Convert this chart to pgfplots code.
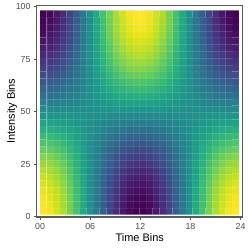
\documentclass[border=0pt]{standalone}
\usepackage{fontspec}
\setmainfont{Liberation Sans}
\usepackage{pgfplots}
\pgfplotsset{compat=1.18}
\definecolor{tickgray}{HTML}{4D4D4D}
\definecolor{framegray}{HTML}{595959}
\begin{document}
\begin{tikzpicture}
\begin{axis}[
  scale only axis, width=206bp, height=211.7bp,
  xmin=-0.4, xmax=24.25, ymin=-0.15, ymax=100.7,
  xtick={0,6,12,18,24}, xticklabels={00,06,12,18,24},
  ytick={0,25,50,75,100},
  tick align=outside, xtick pos=bottom, ytick pos=left,
  major tick length=2.8bp,
  tick style={color=framegray, line width=0.6bp},
  axis line style={color=framegray, line width=1.1bp},
  ticklabel style={font=\fontsize{8.8}{10}\selectfont, text=tickgray},
  /pgf/number format/assume math mode=true,
  xlabel={Time Bins}, ylabel={Intensity Bins},
  label style={font=\fontsize{11}{13}\selectfont},
  xlabel style={at={(axis description cs:0.5,-0.099)}, anchor=center},
  ylabel style={at={(axis description cs:-0.12,0.5)}, anchor=center},
  colormap name=viridis,
  axis on top,
]
\addplot[matrix plot*, mesh/cols=30, point meta=explicit, shader=faceted, faceted color=white, draw opacity=0.07, line width=0.3bp] table[meta=z] {
x y z
0.40 2.62 0.993
1.19 2.62 0.950
1.98 2.62 0.865
2.78 2.62 0.742
3.57 2.62 0.587
4.36 2.62 0.406
5.16 2.62 0.208
5.95 2.62 0
6.74 2.62 -0.208
7.53 2.62 -0.406
8.33 2.62 -0.587
9.12 2.62 -0.742
9.91 2.62 -0.865
10.71 2.62 -0.950
11.50 2.62 -0.993
12.29 2.62 -0.993
13.09 2.62 -0.950
13.88 2.62 -0.865
14.67 2.62 -0.742
15.46 2.62 -0.587
16.26 2.62 -0.406
17.05 2.62 -0.208
17.84 2.62 0
18.64 2.62 0.208
19.43 2.62 0.406
20.22 2.62 0.587
21.02 2.62 0.742
21.81 2.62 0.865
22.60 2.62 0.950
23.39 2.62 0.993
0.40 5.86 0.982
1.19 5.86 0.939
1.98 5.86 0.855
2.78 5.86 0.734
3.57 5.86 0.581
4.36 5.86 0.402
5.16 5.86 0.205
5.95 5.86 0
6.74 5.86 -0.205
7.53 5.86 -0.402
8.33 5.86 -0.581
9.12 5.86 -0.734
9.91 5.86 -0.855
10.71 5.86 -0.939
11.50 5.86 -0.982
12.29 5.86 -0.982
13.09 5.86 -0.939
13.88 5.86 -0.855
14.67 5.86 -0.734
15.46 5.86 -0.581
16.26 5.86 -0.402
17.05 5.86 -0.205
17.84 5.86 0
18.64 5.86 0.205
19.43 5.86 0.402
20.22 5.86 0.581
21.02 5.86 0.734
21.81 5.86 0.855
22.60 5.86 0.939
23.39 5.86 0.982
0.40 9.11 0.961
1.19 9.11 0.919
1.98 9.11 0.836
2.78 9.11 0.718
3.57 9.11 0.568
4.36 9.11 0.393
5.16 9.11 0.201
5.95 9.11 0
6.74 9.11 -0.201
7.53 9.11 -0.393
8.33 9.11 -0.568
9.12 9.11 -0.718
9.91 9.11 -0.836
10.71 9.11 -0.919
11.50 9.11 -0.961
12.29 9.11 -0.961
13.09 9.11 -0.919
13.88 9.11 -0.836
14.67 9.11 -0.718
15.46 9.11 -0.568
16.26 9.11 -0.393
17.05 9.11 -0.201
17.84 9.11 0
18.64 9.11 0.201
19.43 9.11 0.393
20.22 9.11 0.568
21.02 9.11 0.718
21.81 9.11 0.836
22.60 9.11 0.919
23.39 9.11 0.961
0.40 12.35 0.928
1.19 12.35 0.888
1.98 12.35 0.808
2.78 12.35 0.694
3.57 12.35 0.549
4.36 12.35 0.380
5.16 12.35 0.194
5.95 12.35 0
6.74 12.35 -0.194
7.53 12.35 -0.380
8.33 12.35 -0.549
9.12 12.35 -0.694
9.91 12.35 -0.808
10.71 12.35 -0.888
11.50 12.35 -0.928
12.29 12.35 -0.928
13.09 12.35 -0.888
13.88 12.35 -0.808
14.67 12.35 -0.694
15.46 12.35 -0.549
16.26 12.35 -0.380
17.05 12.35 -0.194
17.84 12.35 0
18.64 12.35 0.194
19.43 12.35 0.380
20.22 12.35 0.549
21.02 12.35 0.694
21.81 12.35 0.808
22.60 12.35 0.888
23.39 12.35 0.928
0.40 15.59 0.886
1.19 15.59 0.847
1.98 15.59 0.772
2.78 15.59 0.662
3.57 15.59 0.524
4.36 15.59 0.362
5.16 15.59 0.185
5.95 15.59 0
6.74 15.59 -0.185
7.53 15.59 -0.362
8.33 15.59 -0.524
9.12 15.59 -0.662
9.91 15.59 -0.772
10.71 15.59 -0.847
11.50 15.59 -0.886
12.29 15.59 -0.886
13.09 15.59 -0.847
13.88 15.59 -0.772
14.67 15.59 -0.662
15.46 15.59 -0.524
16.26 15.59 -0.362
17.05 15.59 -0.185
17.84 15.59 0
18.64 15.59 0.185
19.43 15.59 0.362
20.22 15.59 0.524
21.02 15.59 0.662
21.81 15.59 0.772
22.60 15.59 0.847
23.39 15.59 0.886
0.40 18.84 0.834
1.19 18.84 0.798
1.98 18.84 0.726
2.78 18.84 0.623
3.57 18.84 0.493
4.36 18.84 0.341
5.16 18.84 0.174
5.95 18.84 0
6.74 18.84 -0.174
7.53 18.84 -0.341
8.33 18.84 -0.493
9.12 18.84 -0.623
9.91 18.84 -0.726
10.71 18.84 -0.798
11.50 18.84 -0.834
12.29 18.84 -0.834
13.09 18.84 -0.798
13.88 18.84 -0.726
14.67 18.84 -0.623
15.46 18.84 -0.493
16.26 18.84 -0.341
17.05 18.84 -0.174
17.84 18.84 0
18.64 18.84 0.174
19.43 18.84 0.341
20.22 18.84 0.493
21.02 18.84 0.623
21.81 18.84 0.726
22.60 18.84 0.798
23.39 18.84 0.834
0.40 22.08 0.773
1.19 22.08 0.739
1.98 22.08 0.673
2.78 22.08 0.577
3.57 22.08 0.457
4.36 22.08 0.316
5.16 22.08 0.162
5.95 22.08 0
6.74 22.08 -0.162
7.53 22.08 -0.316
8.33 22.08 -0.457
9.12 22.08 -0.577
9.91 22.08 -0.673
10.71 22.08 -0.739
11.50 22.08 -0.773
12.29 22.08 -0.773
13.09 22.08 -0.739
13.88 22.08 -0.673
14.67 22.08 -0.577
15.46 22.08 -0.457
16.26 22.08 -0.316
17.05 22.08 -0.162
17.84 22.08 0
18.64 22.08 0.162
19.43 22.08 0.316
20.22 22.08 0.457
21.02 22.08 0.577
21.81 22.08 0.673
22.60 22.08 0.739
23.39 22.08 0.773
0.40 25.32 0.703
1.19 25.32 0.673
1.98 25.32 0.612
2.78 25.32 0.525
3.57 25.32 0.416
4.36 25.32 0.288
5.16 25.32 0.147
5.95 25.32 0
6.74 25.32 -0.147
7.53 25.32 -0.288
8.33 25.32 -0.416
9.12 25.32 -0.525
9.91 25.32 -0.612
10.71 25.32 -0.673
11.50 25.32 -0.703
12.29 25.32 -0.703
13.09 25.32 -0.673
13.88 25.32 -0.612
14.67 25.32 -0.525
15.46 25.32 -0.416
16.26 25.32 -0.288
17.05 25.32 -0.147
17.84 25.32 0
18.64 25.32 0.147
19.43 25.32 0.288
20.22 25.32 0.416
21.02 25.32 0.525
21.81 25.32 0.612
22.60 25.32 0.673
23.39 25.32 0.703
0.40 28.56 0.626
1.19 28.56 0.599
1.98 28.56 0.545
2.78 28.56 0.468
3.57 28.56 0.370
4.36 28.56 0.256
5.16 28.56 0.131
5.95 28.56 0
6.74 28.56 -0.131
7.53 28.56 -0.256
8.33 28.56 -0.370
9.12 28.56 -0.468
9.91 28.56 -0.545
10.71 28.56 -0.599
11.50 28.56 -0.626
12.29 28.56 -0.626
13.09 28.56 -0.599
13.88 28.56 -0.545
14.67 28.56 -0.468
15.46 28.56 -0.370
16.26 28.56 -0.256
17.05 28.56 -0.131
17.84 28.56 0
18.64 28.56 0.131
19.43 28.56 0.256
20.22 28.56 0.370
21.02 28.56 0.468
21.81 28.56 0.545
22.60 28.56 0.599
23.39 28.56 0.626
0.40 31.81 0.542
1.19 31.81 0.518
1.98 31.81 0.472
2.78 31.81 0.405
3.57 31.81 0.320
4.36 31.81 0.221
5.16 31.81 0.113
5.95 31.81 0
6.74 31.81 -0.113
7.53 31.81 -0.221
8.33 31.81 -0.320
9.12 31.81 -0.405
9.91 31.81 -0.472
10.71 31.81 -0.518
11.50 31.81 -0.542
12.29 31.81 -0.542
13.09 31.81 -0.518
13.88 31.81 -0.472
14.67 31.81 -0.405
15.46 31.81 -0.320
16.26 31.81 -0.221
17.05 31.81 -0.113
17.84 31.81 0
18.64 31.81 0.113
19.43 31.81 0.221
20.22 31.81 0.320
21.02 31.81 0.405
21.81 31.81 0.472
22.60 31.81 0.518
23.39 31.81 0.542
0.40 35.05 0.452
1.19 35.05 0.432
1.98 35.05 0.393
2.78 35.05 0.337
3.57 35.05 0.267
4.36 35.05 0.185
5.16 35.05 0.094
5.95 35.05 0
6.74 35.05 -0.094
7.53 35.05 -0.185
8.33 35.05 -0.267
9.12 35.05 -0.337
9.91 35.05 -0.393
10.71 35.05 -0.432
11.50 35.05 -0.452
12.29 35.05 -0.452
13.09 35.05 -0.432
13.88 35.05 -0.393
14.67 35.05 -0.337
15.46 35.05 -0.267
16.26 35.05 -0.185
17.05 35.05 -0.094
17.84 35.05 0
18.64 35.05 0.094
19.43 35.05 0.185
20.22 35.05 0.267
21.02 35.05 0.337
21.81 35.05 0.393
22.60 35.05 0.432
23.39 35.05 0.452
0.40 38.29 0.356
1.19 38.29 0.341
1.98 38.29 0.310
2.78 38.29 0.266
3.57 38.29 0.211
4.36 38.29 0.146
5.16 38.29 0.075
5.95 38.29 0
6.74 38.29 -0.075
7.53 38.29 -0.146
8.33 38.29 -0.211
9.12 38.29 -0.266
9.91 38.29 -0.310
10.71 38.29 -0.341
11.50 38.29 -0.356
12.29 38.29 -0.356
13.09 38.29 -0.341
13.88 38.29 -0.310
14.67 38.29 -0.266
15.46 38.29 -0.211
16.26 38.29 -0.146
17.05 38.29 -0.075
17.84 38.29 0
18.64 38.29 0.075
19.43 38.29 0.146
20.22 38.29 0.211
21.02 38.29 0.266
21.81 38.29 0.310
22.60 38.29 0.341
23.39 38.29 0.356
0.40 41.54 0.257
1.19 41.54 0.246
1.98 41.54 0.224
2.78 41.54 0.192
3.57 41.54 0.152
4.36 41.54 0.105
5.16 41.54 0.054
5.95 41.54 0
6.74 41.54 -0.054
7.53 41.54 -0.105
8.33 41.54 -0.152
9.12 41.54 -0.192
9.91 41.54 -0.224
10.71 41.54 -0.246
11.50 41.54 -0.257
12.29 41.54 -0.257
13.09 41.54 -0.246
13.88 41.54 -0.224
14.67 41.54 -0.192
15.46 41.54 -0.152
16.26 41.54 -0.105
17.05 41.54 -0.054
17.84 41.54 0
18.64 41.54 0.054
19.43 41.54 0.105
20.22 41.54 0.152
21.02 41.54 0.192
21.81 41.54 0.224
22.60 41.54 0.246
23.39 41.54 0.257
0.40 44.78 0.156
1.19 44.78 0.149
1.98 44.78 0.135
2.78 44.78 0.116
3.57 44.78 0.092
4.36 44.78 0.064
5.16 44.78 0.033
5.95 44.78 0
6.74 44.78 -0.033
7.53 44.78 -0.064
8.33 44.78 -0.092
9.12 44.78 -0.116
9.91 44.78 -0.135
10.71 44.78 -0.149
11.50 44.78 -0.156
12.29 44.78 -0.156
13.09 44.78 -0.149
13.88 44.78 -0.135
14.67 44.78 -0.116
15.46 44.78 -0.092
16.26 44.78 -0.064
17.05 44.78 -0.033
17.84 44.78 0
18.64 44.78 0.033
19.43 44.78 0.064
20.22 44.78 0.092
21.02 44.78 0.116
21.81 44.78 0.135
22.60 44.78 0.149
23.39 44.78 0.156
0.40 48.02 0.052
1.19 48.02 0.050
1.98 48.02 0.045
2.78 48.02 0.039
3.57 48.02 0.031
4.36 48.02 0.021
5.16 48.02 0.011
5.95 48.02 0
6.74 48.02 -0.011
7.53 48.02 -0.021
8.33 48.02 -0.031
9.12 48.02 -0.039
9.91 48.02 -0.045
10.71 48.02 -0.050
11.50 48.02 -0.052
12.29 48.02 -0.052
13.09 48.02 -0.050
13.88 48.02 -0.045
14.67 48.02 -0.039
15.46 48.02 -0.031
16.26 48.02 -0.021
17.05 48.02 -0.011
17.84 48.02 0
18.64 48.02 0.011
19.43 48.02 0.021
20.22 48.02 0.031
21.02 48.02 0.039
21.81 48.02 0.045
22.60 48.02 0.050
23.39 48.02 0.052
0.40 51.27 -0.052
1.19 51.27 -0.050
1.98 51.27 -0.045
2.78 51.27 -0.039
3.57 51.27 -0.031
4.36 51.27 -0.021
5.16 51.27 -0.011
5.95 51.27 0
6.74 51.27 0.011
7.53 51.27 0.021
8.33 51.27 0.031
9.12 51.27 0.039
9.91 51.27 0.045
10.71 51.27 0.050
11.50 51.27 0.052
12.29 51.27 0.052
13.09 51.27 0.050
13.88 51.27 0.045
14.67 51.27 0.039
15.46 51.27 0.031
16.26 51.27 0.021
17.05 51.27 0.011
17.84 51.27 0
18.64 51.27 -0.011
19.43 51.27 -0.021
20.22 51.27 -0.031
21.02 51.27 -0.039
21.81 51.27 -0.045
22.60 51.27 -0.050
23.39 51.27 -0.052
0.40 54.51 -0.156
1.19 54.51 -0.149
1.98 54.51 -0.135
2.78 54.51 -0.116
3.57 54.51 -0.092
4.36 54.51 -0.064
5.16 54.51 -0.033
5.95 54.51 0
6.74 54.51 0.033
7.53 54.51 0.064
8.33 54.51 0.092
9.12 54.51 0.116
9.91 54.51 0.135
10.71 54.51 0.149
11.50 54.51 0.156
12.29 54.51 0.156
13.09 54.51 0.149
13.88 54.51 0.135
14.67 54.51 0.116
15.46 54.51 0.092
16.26 54.51 0.064
17.05 54.51 0.033
17.84 54.51 0
18.64 54.51 -0.033
19.43 54.51 -0.064
20.22 54.51 -0.092
21.02 54.51 -0.116
21.81 54.51 -0.135
22.60 54.51 -0.149
23.39 54.51 -0.156
0.40 57.75 -0.257
1.19 57.75 -0.246
1.98 57.75 -0.224
2.78 57.75 -0.192
3.57 57.75 -0.152
4.36 57.75 -0.105
5.16 57.75 -0.054
5.95 57.75 0
6.74 57.75 0.054
7.53 57.75 0.105
8.33 57.75 0.152
9.12 57.75 0.192
9.91 57.75 0.224
10.71 57.75 0.246
11.50 57.75 0.257
12.29 57.75 0.257
13.09 57.75 0.246
13.88 57.75 0.224
14.67 57.75 0.192
15.46 57.75 0.152
16.26 57.75 0.105
17.05 57.75 0.054
17.84 57.75 0
18.64 57.75 -0.054
19.43 57.75 -0.105
20.22 57.75 -0.152
21.02 57.75 -0.192
21.81 57.75 -0.224
22.60 57.75 -0.246
23.39 57.75 -0.257
0.40 60.99 -0.356
1.19 60.99 -0.341
1.98 60.99 -0.310
2.78 60.99 -0.266
3.57 60.99 -0.211
4.36 60.99 -0.146
5.16 60.99 -0.075
5.95 60.99 0
6.74 60.99 0.075
7.53 60.99 0.146
8.33 60.99 0.211
9.12 60.99 0.266
9.91 60.99 0.310
10.71 60.99 0.341
11.50 60.99 0.356
12.29 60.99 0.356
13.09 60.99 0.341
13.88 60.99 0.310
14.67 60.99 0.266
15.46 60.99 0.211
16.26 60.99 0.146
17.05 60.99 0.075
17.84 60.99 0
18.64 60.99 -0.075
19.43 60.99 -0.146
20.22 60.99 -0.211
21.02 60.99 -0.266
21.81 60.99 -0.310
22.60 60.99 -0.341
23.39 60.99 -0.356
0.40 64.24 -0.452
1.19 64.24 -0.432
1.98 64.24 -0.393
2.78 64.24 -0.337
3.57 64.24 -0.267
4.36 64.24 -0.185
5.16 64.24 -0.094
5.95 64.24 0
6.74 64.24 0.094
7.53 64.24 0.185
8.33 64.24 0.267
9.12 64.24 0.337
9.91 64.24 0.393
10.71 64.24 0.432
11.50 64.24 0.452
12.29 64.24 0.452
13.09 64.24 0.432
13.88 64.24 0.393
14.67 64.24 0.337
15.46 64.24 0.267
16.26 64.24 0.185
17.05 64.24 0.094
17.84 64.24 0
18.64 64.24 -0.094
19.43 64.24 -0.185
20.22 64.24 -0.267
21.02 64.24 -0.337
21.81 64.24 -0.393
22.60 64.24 -0.432
23.39 64.24 -0.452
0.40 67.48 -0.542
1.19 67.48 -0.518
1.98 67.48 -0.472
2.78 67.48 -0.405
3.57 67.48 -0.320
4.36 67.48 -0.221
5.16 67.48 -0.113
5.95 67.48 0
6.74 67.48 0.113
7.53 67.48 0.221
8.33 67.48 0.320
9.12 67.48 0.405
9.91 67.48 0.472
10.71 67.48 0.518
11.50 67.48 0.542
12.29 67.48 0.542
13.09 67.48 0.518
13.88 67.48 0.472
14.67 67.48 0.405
15.46 67.48 0.320
16.26 67.48 0.221
17.05 67.48 0.113
17.84 67.48 0
18.64 67.48 -0.113
19.43 67.48 -0.221
20.22 67.48 -0.320
21.02 67.48 -0.405
21.81 67.48 -0.472
22.60 67.48 -0.518
23.39 67.48 -0.542
0.40 70.72 -0.626
1.19 70.72 -0.599
1.98 70.72 -0.545
2.78 70.72 -0.468
3.57 70.72 -0.370
4.36 70.72 -0.256
5.16 70.72 -0.131
5.95 70.72 0
6.74 70.72 0.131
7.53 70.72 0.256
8.33 70.72 0.370
9.12 70.72 0.468
9.91 70.72 0.545
10.71 70.72 0.599
11.50 70.72 0.626
12.29 70.72 0.626
13.09 70.72 0.599
13.88 70.72 0.545
14.67 70.72 0.468
15.46 70.72 0.370
16.26 70.72 0.256
17.05 70.72 0.131
17.84 70.72 0
18.64 70.72 -0.131
19.43 70.72 -0.256
20.22 70.72 -0.370
21.02 70.72 -0.468
21.81 70.72 -0.545
22.60 70.72 -0.599
23.39 70.72 -0.626
0.40 73.97 -0.703
1.19 73.97 -0.673
1.98 73.97 -0.612
2.78 73.97 -0.525
3.57 73.97 -0.416
4.36 73.97 -0.288
5.16 73.97 -0.147
5.95 73.97 0
6.74 73.97 0.147
7.53 73.97 0.288
8.33 73.97 0.416
9.12 73.97 0.525
9.91 73.97 0.612
10.71 73.97 0.673
11.50 73.97 0.703
12.29 73.97 0.703
13.09 73.97 0.673
13.88 73.97 0.612
14.67 73.97 0.525
15.46 73.97 0.416
16.26 73.97 0.288
17.05 73.97 0.147
17.84 73.97 0
18.64 73.97 -0.147
19.43 73.97 -0.288
20.22 73.97 -0.416
21.02 73.97 -0.525
21.81 73.97 -0.612
22.60 73.97 -0.673
23.39 73.97 -0.703
0.40 77.21 -0.773
1.19 77.21 -0.739
1.98 77.21 -0.673
2.78 77.21 -0.577
3.57 77.21 -0.457
4.36 77.21 -0.316
5.16 77.21 -0.162
5.95 77.21 0
6.74 77.21 0.162
7.53 77.21 0.316
8.33 77.21 0.457
9.12 77.21 0.577
9.91 77.21 0.673
10.71 77.21 0.739
11.50 77.21 0.773
12.29 77.21 0.773
13.09 77.21 0.739
13.88 77.21 0.673
14.67 77.21 0.577
15.46 77.21 0.457
16.26 77.21 0.316
17.05 77.21 0.162
17.84 77.21 0
18.64 77.21 -0.162
19.43 77.21 -0.316
20.22 77.21 -0.457
21.02 77.21 -0.577
21.81 77.21 -0.673
22.60 77.21 -0.739
23.39 77.21 -0.773
0.40 80.45 -0.834
1.19 80.45 -0.798
1.98 80.45 -0.726
2.78 80.45 -0.623
3.57 80.45 -0.493
4.36 80.45 -0.341
5.16 80.45 -0.174
5.95 80.45 0
6.74 80.45 0.174
7.53 80.45 0.341
8.33 80.45 0.493
9.12 80.45 0.623
9.91 80.45 0.726
10.71 80.45 0.798
11.50 80.45 0.834
12.29 80.45 0.834
13.09 80.45 0.798
13.88 80.45 0.726
14.67 80.45 0.623
15.46 80.45 0.493
16.26 80.45 0.341
17.05 80.45 0.174
17.84 80.45 0
18.64 80.45 -0.174
19.43 80.45 -0.341
20.22 80.45 -0.493
21.02 80.45 -0.623
21.81 80.45 -0.726
22.60 80.45 -0.798
23.39 80.45 -0.834
0.40 83.70 -0.886
1.19 83.70 -0.847
1.98 83.70 -0.772
2.78 83.70 -0.662
3.57 83.70 -0.524
4.36 83.70 -0.362
5.16 83.70 -0.185
5.95 83.70 0
6.74 83.70 0.185
7.53 83.70 0.362
8.33 83.70 0.524
9.12 83.70 0.662
9.91 83.70 0.772
10.71 83.70 0.847
11.50 83.70 0.886
12.29 83.70 0.886
13.09 83.70 0.847
13.88 83.70 0.772
14.67 83.70 0.662
15.46 83.70 0.524
16.26 83.70 0.362
17.05 83.70 0.185
17.84 83.70 0
18.64 83.70 -0.185
19.43 83.70 -0.362
20.22 83.70 -0.524
21.02 83.70 -0.662
21.81 83.70 -0.772
22.60 83.70 -0.847
23.39 83.70 -0.886
0.40 86.94 -0.928
1.19 86.94 -0.888
1.98 86.94 -0.808
2.78 86.94 -0.694
3.57 86.94 -0.549
4.36 86.94 -0.380
5.16 86.94 -0.194
5.95 86.94 0
6.74 86.94 0.194
7.53 86.94 0.380
8.33 86.94 0.549
9.12 86.94 0.694
9.91 86.94 0.808
10.71 86.94 0.888
11.50 86.94 0.928
12.29 86.94 0.928
13.09 86.94 0.888
13.88 86.94 0.808
14.67 86.94 0.694
15.46 86.94 0.549
16.26 86.94 0.380
17.05 86.94 0.194
17.84 86.94 0
18.64 86.94 -0.194
19.43 86.94 -0.380
20.22 86.94 -0.549
21.02 86.94 -0.694
21.81 86.94 -0.808
22.60 86.94 -0.888
23.39 86.94 -0.928
0.40 90.18 -0.961
1.19 90.18 -0.919
1.98 90.18 -0.836
2.78 90.18 -0.718
3.57 90.18 -0.568
4.36 90.18 -0.393
5.16 90.18 -0.201
5.95 90.18 0
6.74 90.18 0.201
7.53 90.18 0.393
8.33 90.18 0.568
9.12 90.18 0.718
9.91 90.18 0.836
10.71 90.18 0.919
11.50 90.18 0.961
12.29 90.18 0.961
13.09 90.18 0.919
13.88 90.18 0.836
14.67 90.18 0.718
15.46 90.18 0.568
16.26 90.18 0.393
17.05 90.18 0.201
17.84 90.18 0
18.64 90.18 -0.201
19.43 90.18 -0.393
20.22 90.18 -0.568
21.02 90.18 -0.718
21.81 90.18 -0.836
22.60 90.18 -0.919
23.39 90.18 -0.961
0.40 93.42 -0.982
1.19 93.42 -0.939
1.98 93.42 -0.855
2.78 93.42 -0.734
3.57 93.42 -0.581
4.36 93.42 -0.402
5.16 93.42 -0.205
5.95 93.42 0
6.74 93.42 0.205
7.53 93.42 0.402
8.33 93.42 0.581
9.12 93.42 0.734
9.91 93.42 0.855
10.71 93.42 0.939
11.50 93.42 0.982
12.29 93.42 0.982
13.09 93.42 0.939
13.88 93.42 0.855
14.67 93.42 0.734
15.46 93.42 0.581
16.26 93.42 0.402
17.05 93.42 0.205
17.84 93.42 0
18.64 93.42 -0.205
19.43 93.42 -0.402
20.22 93.42 -0.581
21.02 93.42 -0.734
21.81 93.42 -0.855
22.60 93.42 -0.939
23.39 93.42 -0.982
0.40 96.67 -0.993
1.19 96.67 -0.950
1.98 96.67 -0.865
2.78 96.67 -0.742
3.57 96.67 -0.587
4.36 96.67 -0.406
5.16 96.67 -0.208
5.95 96.67 0
6.74 96.67 0.208
7.53 96.67 0.406
8.33 96.67 0.587
9.12 96.67 0.742
9.91 96.67 0.865
10.71 96.67 0.950
11.50 96.67 0.993
12.29 96.67 0.993
13.09 96.67 0.950
13.88 96.67 0.865
14.67 96.67 0.742
15.46 96.67 0.587
16.26 96.67 0.406
17.05 96.67 0.208
17.84 96.67 0
18.64 96.67 -0.208
19.43 96.67 -0.406
20.22 96.67 -0.587
21.02 96.67 -0.742
21.81 96.67 -0.865
22.60 96.67 -0.950
23.39 96.67 -0.993
};
\end{axis}
\pgfresetboundingbox
\path[use as bounding box] ([xshift=-36.7bp, yshift=-32bp]current axis.south west) rectangle ([xshift=6.3bp, yshift=5.3bp]current axis.north east);
\end{tikzpicture}
\end{document}
